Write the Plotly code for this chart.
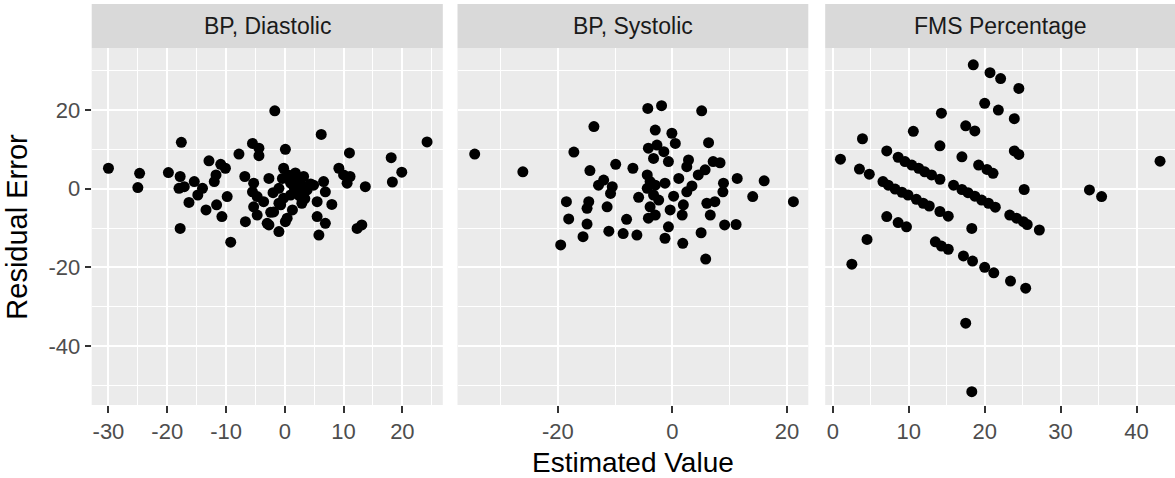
import plotly.graph_objects as go

# Residuals vs estimated values for three measures
panels = ["BP, Diastolic", "BP, Systolic", "FMS Percentage"]

dia_est = [-30.0, -24.7, -25.0, -19.8, -17.6, -17.8, -17.8, -18.0, -17.1, -15.4,
           -14.0, -14.8, -16.3, -11.7, -12.0, -12.9, -10.9, -10.1, -9.8, -11.6,
           -13.4, -10.7, -9.2, -7.8, -5.5, -4.4, -4.4, -6.8, -5.3, -5.5,
           -4.7, -5.3, -4.7, -6.7, -2.7, -3.6, -2.4, -3.0, -2.7, -1.0,
           -1.7, 0.1, -0.2, -0.4, -1.0, 1.0, 2.1, 3.2, 2.9, 3.8,
           2.1, 1.0, -0.2, -0.7, -1.0, -1.9, 1.3, 0.4, 0.1, 2.9,
           4.9, 6.6, 6.9, 5.5, 8.0, 5.5, 6.9, 5.8, 6.2, 9.2,
           10.0, 11.1, 10.6, 11.0, 13.7, 13.1, 12.3, 18.1, 19.9, 18.3,
           24.2, 1.6, 2.5, 4.4, 3.4, 0.6, -2.0, 1.8]
dia_res = [5.2, 3.9, 0.3, 4.1, 11.8, -10.1, 3.1, 0.1, 0.5, 1.8,
           0.1, -1.6, -3.5, 3.5, 1.8, 7.1, 6.2, 5.2, -2.0, -4.1,
           -5.4, -7.1, -13.6, 8.8, 11.5, 10.3, 8.4, 3.1, 1.4, -0.8,
           -2.0, -4.6, -6.7, -8.4, 2.6, -3.3, -6.0, -8.8, -9.2, -10.9,
           19.8, 10.0, 5.2, 2.6, 0.1, 1.4, 2.6, 3.1, 0.9, -0.3,
           -0.8, -1.6, -2.4, -4.1, -3.7, -5.9, -5.4, -7.5, -8.4, -3.7,
           0.9, 1.8, -0.8, -3.3, -4.0, -7.1, -8.8, -11.8, 13.8, 5.2,
           3.5, 3.1, 1.4, 9.1, 0.5, -9.2, -10.1, 7.9, 4.2, 1.7,
           11.9, 0.3, -1.8, 1.2, -2.5, 3.5, -1.0, 4.0]

sys_est = [-34.5, -26.1, 21.1, 16.0, 14.0, 11.3, -13.7, 5.1, -4.3, -1.9,
           5.8, -19.5, -17.2, -3.0, -0.1, 0.5, 6.3, -4.2, -2.7, -1.5,
           -3.3, -0.7, 2.8, 2.5, 7.1, 8.3, 5.7, 4.5, -14.4, -9.9,
           -6.9, -12.0, -12.9, -10.5, -10.8, -4.4, -3.9, -1.3, 1.1, 3.4,
           2.5, -5.9, -3.3, -2.4, 0.2, -3.9, -0.4, 1.9, 1.7, -3.0,
           -4.2, 6.0, 7.4, 6.6, 8.9, 8.8, -18.5, -14.6, -14.9, -11.4,
           -18.1, -14.9, -8.0, -11.1, -8.6, -6.2, -15.6, -0.7, -1.3, 1.8,
           5.0, 9.1, 11.1, -4.4, -3.0]
sys_res = [8.8, 4.3, -3.3, 2.0, -2.0, 2.6, 15.8, 19.8, 20.4, 21.1,
           -17.9, -14.3, 9.3, 14.9, 14.1, 11.5, 11.7, 10.3, 11.1, 9.4,
           7.7, 6.9, 7.3, 5.6, 6.9, 6.6, 4.8, 3.5, 4.6, 6.2,
           5.2, 2.2, 0.9, 0.5, -1.2, 3.5, 1.8, 1.4, 2.6, 0.7,
           -0.8, -2.2, -1.6, -2.9, -1.9, -4.6, -5.4, -4.1, -6.7, -6.7,
           -7.5, -3.7, -3.3, -6.7, 1.4, -0.8, -3.3, -3.3, -5.0, -4.6,
           -7.7, -9.0, -7.8, -10.8, -11.4, -11.8, -12.2, -9.7, -12.6, -13.9,
           -11.2, -9.2, -9.1, 0.1, 0.9]

fms_est = [18.5, 20.7, 22.1, 24.5, 20.0, 21.8, 23.9, 14.3, 17.5, 18.7,
           10.6, 3.9, 14.1, 23.9, 24.5, 1.0, 17.0, 43.1, 19.2, 20.3,
           21.1, 25.2, 33.8, 35.4, 17.5, 18.3, 2.5, 4.5, 18.3, 27.2,
           7.1, 8.6, 9.5, 10.4, 11.3, 12.1, 13.0, 14.1, 15.9, 17.0,
           17.8, 18.7, 19.6, 20.5, 21.4, 23.3, 24.2, 25.1, 25.6,
           3.5, 4.8, 6.6, 7.3, 8.2, 9.1, 9.9, 11.0, 11.9, 12.7, 14.1, 15.2,
           7.1, 8.6, 9.7,
           13.5, 14.3, 15.2, 17.2, 18.4, 20.0, 21.2, 23.4, 25.4]
fms_res = [31.5, 29.5, 28.0, 25.5, 21.7, 20.0, 17.8, 19.2, 16.0, 14.7,
           14.6, 12.7, 10.9, 9.6, 8.7, 7.5, 8.1, 7.0, 6.0, 4.9,
           3.9, -0.2, -0.3, -2.0, -34.2, -51.6, -19.2, -12.9, -10.1, -10.5,
           9.6, 8.0, 6.9, 6.0, 5.2, 4.3, 3.5, 2.4, 0.9, -0.2,
           -1.0, -1.9, -2.9, -3.7, -4.7, -6.7, -7.5, -8.4, -9.1,
           5.0, 3.7, 1.8, 0.9, -0.1, -0.9, -1.6, -2.7, -3.7, -4.4, -5.8, -7.0,
           -7.1, -8.6, -9.7,
           -13.5, -14.6, -15.4, -17.1, -18.4, -20.0, -21.4, -23.5, -25.3]

# tick positions per panel (labels use a plain hyphen for negatives)
x_ticks = [[-30, -20, -10, 0, 10, 20], [-20, 0, 20], [0, 10, 20, 30, 40]]
y_ticks = [-40, -20, 0, 20]

series = [(dia_est, dia_res), (sys_est, sys_res), (fms_est, fms_res)]

W, H = 1175, 478
panel_px = [(91.7, 442.8), (457.5, 808.3), (825.2, 1175.0)]
panel_top, panel_bottom = 48.3, 405.0
strip_top = 4.0

x_ranges = [[-32.85, 26.88], [-37.5, 23.7], [-1.01, 45.07]]
x_minor = [5, 10, 5]
y_range = [-55.0, 35.7]

panel_bg = "#EBEBEB"
strip_bg = "#D9D9D9"
tick_font = dict(family="Liberation Sans", size=22, color="#4D4D4D")


def labels(vals):
    return [str(v) for v in vals]


fig = go.Figure()
for i, (xs, ys) in enumerate(series):
    sfx = "" if i == 0 else str(i + 1)
    fig.add_trace(go.Scatter(
        x=xs, y=ys, mode="markers", xaxis="x" + sfx, yaxis="y" + sfx,
        marker=dict(color="black", size=11, line=dict(width=0)),
        showlegend=False, hoverinfo="skip"))

layout = dict(
    width=W, height=H, margin=dict(l=0, r=0, t=0, b=0),
    paper_bgcolor="white", plot_bgcolor=panel_bg,
    font=dict(family="Liberation Sans"),
    shapes=[], annotations=[])

y_dom = [1 - panel_bottom / H, 1 - panel_top / H]
for i in range(3):
    sfx = "" if i == 0 else str(i + 1)
    x0, x1 = panel_px[i]
    layout["xaxis" + sfx] = dict(
        domain=[x0 / W, x1 / W], range=x_ranges[i], anchor="y" + sfx,
        tickmode="array", tickvals=x_ticks[i], ticktext=labels(x_ticks[i]),
        showgrid=True, gridcolor="white", gridwidth=2,
        zeroline=False, ticks="outside", ticklen=7, tickwidth=2, tickcolor="#333333",
        tickfont=tick_font, showline=False,
        minor=dict(dtick=x_minor[i], tick0=0, showgrid=True, gridcolor="white",
                   gridwidth=1, ticks=""))
    layout["yaxis" + sfx] = dict(
        domain=y_dom, range=y_range, anchor="x" + sfx,
        tickmode="array", tickvals=y_ticks, ticktext=labels(y_ticks),
        showgrid=True, gridcolor="white", gridwidth=2,
        zeroline=False, ticks="outside" if i == 0 else "", ticklen=6, tickwidth=2,
        tickcolor="#333333", tickfont=tick_font, showticklabels=(i == 0),
        matches=None if i == 0 else "y",
        minor=dict(dtick=10, tick0=0, showgrid=True, gridcolor="white",
                   gridwidth=1, ticks=""))
    # facet strip
    layout["shapes"].append(dict(
        type="rect", xref="x" + sfx + " domain", yref="paper",
        x0=0, x1=1, y0=1 - panel_top / H, y1=1 - strip_top / H,
        fillcolor=strip_bg, line=dict(width=0), layer="below"))
    layout["annotations"].append(dict(
        text=panels[i], xref="x" + sfx + " domain", yref="paper",
        x=0.5, y=1 - (panel_top + strip_top) / 2 / H, showarrow=False,
        xanchor="center", yanchor="middle",
        font=dict(family="Liberation Sans", size=23, color="#1A1A1A")))

layout["annotations"].append(dict(
    text="Estimated Value", xref="paper", yref="paper",
    x=(panel_px[0][0] + panel_px[2][1]) / 2 / W, y=1 - 462 / H,
    showarrow=False, xanchor="center", yanchor="middle",
    font=dict(family="Liberation Sans", size=28, color="black")))
layout["annotations"].append(dict(
    text="Residual Error", xref="paper", yref="paper",
    x=17 / W, y=1 - (panel_top + panel_bottom) / 2 / H, textangle=-90,
    showarrow=False, xanchor="center", yanchor="middle",
    font=dict(family="Liberation Sans", size=29, color="black")))

fig.update_layout(**layout)
fig.write_html("out.html")
